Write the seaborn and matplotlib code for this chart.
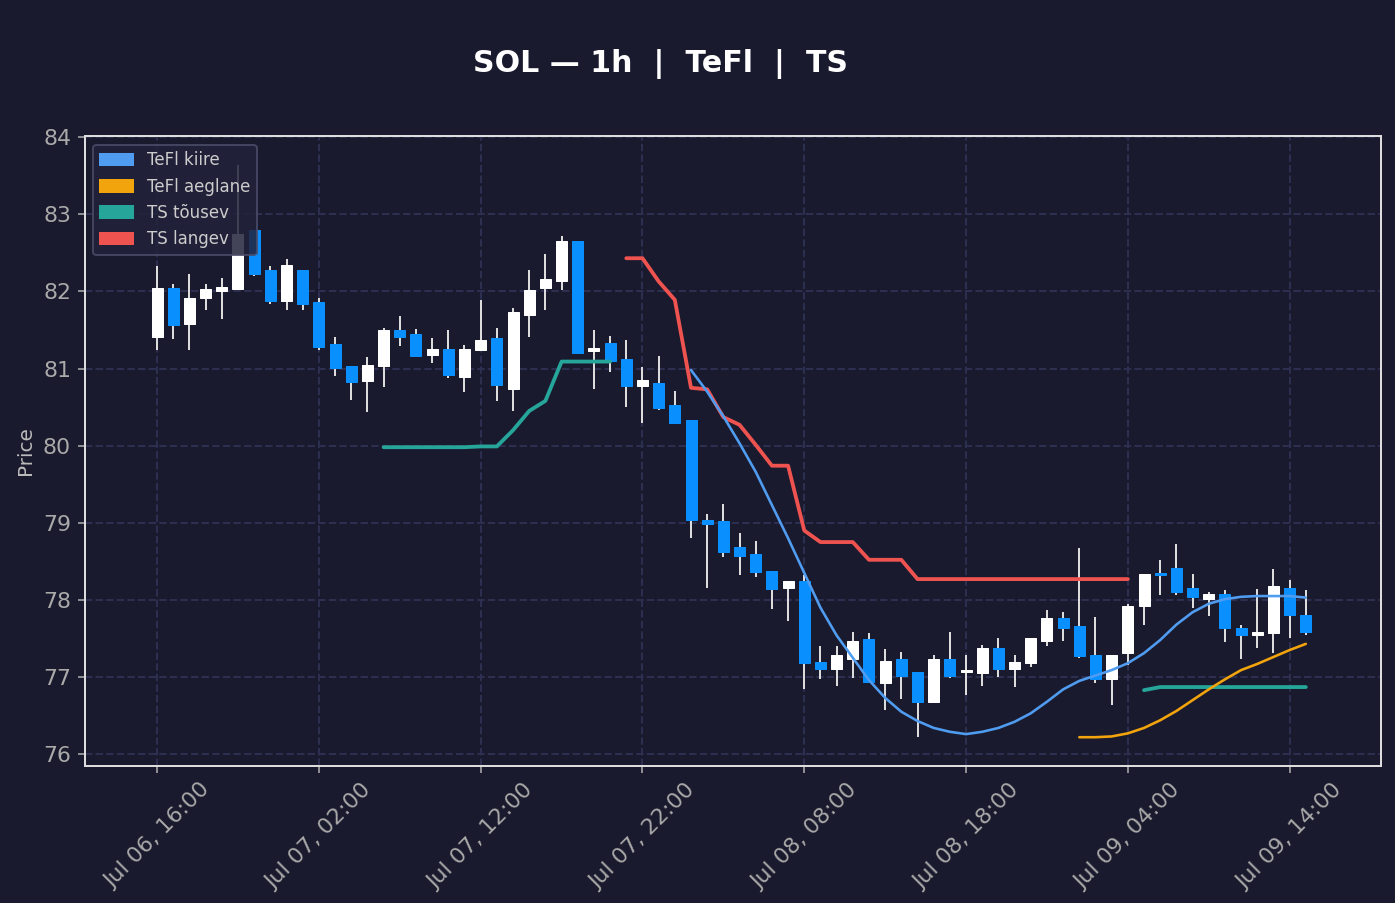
import numpy as np
import pandas as pd
import matplotlib
matplotlib.use("Agg")
import matplotlib.pyplot as plt
import matplotlib.dates as mdates
from matplotlib.patches import Patch
import seaborn as sns

sns.set_theme(style="dark")
plt.rcParams['font.family'] = ['DejaVu Sans']

# hourly candles, Jul 06 16:00 -> Jul 09 15:00
times = pd.date_range("2025-07-06 16:00", periods=72, freq="h")

opens = [81.41, 82.05, 81.58, 81.92, 82.01, 82.03, 82.80, 82.28, 81.88, 82.28,
         81.86, 81.32, 81.03, 80.84, 81.03, 81.50, 81.45, 81.18, 81.25, 80.89,
         81.24, 81.39, 80.74, 81.70, 82.05, 82.14, 82.65, 81.23, 81.33, 81.12,
         80.77, 80.81, 80.53, 80.33, 79.04, 79.02, 78.68, 78.59, 78.38, 78.15,
         78.24, 77.19, 77.11, 77.24, 77.49, 76.92, 77.23, 77.06, 76.67, 77.24,
         77.06, 77.05, 77.38, 77.11, 77.18, 77.47, 77.77, 77.66, 77.29, 76.98,
         77.31, 77.92, 78.34, 78.42, 78.16, 78.01, 78.08, 77.63, 77.55, 77.57,
         78.16, 77.81]
highs = [82.33, 82.10, 82.22, 82.09, 82.18, 83.64, 82.80, 82.33, 82.42, 82.28,
         81.91, 81.41, 81.03, 81.15, 81.53, 81.68, 81.51, 81.39, 81.50, 81.30,
         81.89, 81.53, 81.79, 82.28, 82.48, 82.72, 82.65, 81.50, 81.42, 81.37,
         81.02, 81.16, 80.71, 80.33, 79.12, 79.24, 78.87, 78.76, 78.38, 78.24,
         78.32, 77.40, 77.40, 77.59, 77.57, 77.37, 77.32, 77.06, 77.28, 77.58,
         77.28, 77.42, 77.50, 77.28, 77.50, 77.87, 77.84, 78.67, 77.78, 77.29,
         77.95, 78.33, 78.52, 78.72, 78.33, 78.10, 78.13, 77.68, 78.14, 78.40,
         78.26, 78.13]
lows = [81.24, 81.38, 81.24, 81.76, 81.64, 82.02, 82.20, 81.84, 81.76, 81.76,
        81.24, 80.90, 80.59, 80.44, 80.76, 81.29, 81.16, 81.07, 80.88, 80.69,
        81.23, 80.58, 80.45, 81.41, 81.76, 82.02, 81.20, 80.73, 80.95, 80.50,
        80.30, 80.46, 80.29, 78.80, 78.16, 78.56, 78.32, 78.30, 77.88, 77.73,
        76.84, 76.97, 76.89, 76.99, 76.94, 76.57, 76.71, 76.22, 76.67, 76.99,
        76.77, 76.88, 77.00, 76.87, 77.13, 77.40, 77.47, 77.25, 76.92, 76.64,
        77.15, 77.68, 78.07, 78.07, 77.90, 77.79, 77.46, 77.24, 77.38, 77.31,
        77.51, 77.55]
closes = [82.04, 81.57, 81.91, 82.03, 82.06, 82.75, 82.23, 81.88, 82.34, 81.84,
          81.28, 81.01, 80.83, 81.04, 81.50, 81.41, 81.16, 81.25, 80.91, 81.25,
          81.37, 80.79, 81.73, 82.02, 82.16, 82.65, 81.20, 81.26, 81.10, 80.77,
          80.85, 80.49, 80.29, 79.03, 78.98, 78.62, 78.57, 78.36, 78.14, 78.24,
          77.18, 77.10, 77.28, 77.47, 76.94, 77.21, 77.02, 76.67, 77.24, 77.02,
          77.09, 77.38, 77.11, 77.20, 77.50, 77.77, 77.64, 77.27, 76.97, 77.29,
          77.92, 78.33, 78.32, 78.10, 78.04, 78.08, 77.63, 77.55, 77.59, 78.18,
          77.80, 77.59]

# TeFl fast line, candles 33..71
tefl_fast = [80.98, 80.70, 80.38, 80.03, 79.66, 79.23, 78.80, 78.35, 77.90, 77.54,
             77.25, 76.96, 76.73, 76.55, 76.43, 76.34, 76.29, 76.26, 76.29, 76.34,
             76.42, 76.53, 76.68, 76.84, 76.95, 77.02, 77.09, 77.18, 77.31, 77.48,
             77.68, 77.84, 77.95, 78.01, 78.04, 78.05, 78.05, 78.05, 78.03]
# TeFl slow line, candles 57..71
tefl_slow = [76.22, 76.22, 76.23, 76.27, 76.34, 76.44, 76.56, 76.70, 76.84, 76.97,
             77.09, 77.17, 77.26, 77.35, 77.43]
# TS up, candles 14..28 and 61..71
ts_up_a = [79.98, 79.98, 79.98, 79.98, 79.98, 79.98, 79.99, 79.99, 80.20, 80.45,
           80.58, 81.09, 81.09, 81.09, 81.09]
ts_up_b = [76.83, 76.87, 76.87, 76.87, 76.87, 76.87, 76.87, 76.87, 76.87, 76.87, 76.87]
# TS down, candles 29..60
ts_down = [82.43, 82.43, 82.13, 81.89, 80.75, 80.73, 80.37, 80.27, 80.01, 79.74,
           79.74, 78.90, 78.75, 78.75, 78.75, 78.52, 78.52, 78.52, 78.27, 78.27,
           78.27, 78.27, 78.27, 78.27, 78.27, 78.27, 78.27, 78.27, 78.27, 78.27,
           78.27, 78.27]

bg = "#1a1a2e"
up_col = "#ffffff"
down_col = "#0a8fff"
wick_col = "#dcdcdc"
c_fast = "#4f9cf0"
c_slow = "#f2a40c"
c_up = "#26a69a"
c_down = "#ef5350"

fig = plt.figure(figsize=(1395 / 144, 903 / 144), dpi=144, facecolor=bg)
ax = fig.add_axes([0.061, 0.152, 0.929, 0.697])
ax.set_facecolor(bg)

o = np.array(opens)
c = np.array(closes)
is_up = c >= o
body_lo = np.minimum(o, c)
body_h = np.maximum(np.abs(c - o), 0.03)
cols = np.where(is_up, up_col, down_col)

ax.vlines(times, lows, highs, color=wick_col, linewidth=1.0, zorder=2)
ax.bar(times, body_h, bottom=body_lo, width=0.68 / 24, color=cols,
       edgecolor=cols, linewidth=0.5, zorder=3)

def seg(start, vals):
    return pd.DataFrame({"t": times[start:start + len(vals)], "v": vals})

sns.lineplot(data=seg(29, ts_down), x="t", y="v", ax=ax, color=c_down, linewidth=1.9, zorder=4)
sns.lineplot(data=seg(14, ts_up_a), x="t", y="v", ax=ax, color=c_up, linewidth=1.9, zorder=4)
sns.lineplot(data=seg(61, ts_up_b), x="t", y="v", ax=ax, color=c_up, linewidth=1.9, zorder=4)
sns.lineplot(data=seg(33, tefl_fast), x="t", y="v", ax=ax, color=c_fast, linewidth=1.3, zorder=5)
sns.lineplot(data=seg(57, tefl_slow), x="t", y="v", ax=ax, color=c_slow, linewidth=1.3, zorder=5)

ax.set_xlim(times[0] - pd.Timedelta(hours=4.45), times[-1] + pd.Timedelta(hours=4.65))
ax.set_ylim(75.85, 84.01)
ax.set_yticks(range(76, 85))
ax.set_xticks(pd.date_range(times[0], periods=8, freq="10h"))
ax.xaxis.set_major_formatter(mdates.DateFormatter("%b %d, %H:%M"))
plt.setp(ax.get_xticklabels(), rotation=45)

ax.grid(True, linestyle="--", color="#2d2f50", linewidth=1.0)
ax.set_axisbelow(True)
for sp in ax.spines.values():
    sp.set_color("#dddddd")
    sp.set_linewidth(1.0)
ax.tick_params(axis="both", colors="#aaaaaa", labelsize=11, bottom=True, left=True,
               length=3.5, width=0.8)
ax.set_xlabel("")
ax.set_ylabel("Price", color="#bbbbbb", fontsize=10)

handles = [Patch(color=c_fast, label="TeFl kiire"),
           Patch(color=c_slow, label="TeFl aeglane"),
           Patch(color=c_up, label="TS tõusev"),
           Patch(color=c_down, label="TS langev")]
leg = ax.legend(handles=handles, loc="upper left", fontsize=8.3, facecolor="#22233a",
                edgecolor="#4a4c68", framealpha=0.85, labelcolor="#cccccc")
leg.set_zorder(10)

fig.text(0.4735, 0.929, "SOL — 1h  |  TeFl  |  TS", ha="center", va="center",
         fontsize=15, fontweight="bold", color="white")

fig.savefig("out.png", dpi=144, facecolor=bg)
